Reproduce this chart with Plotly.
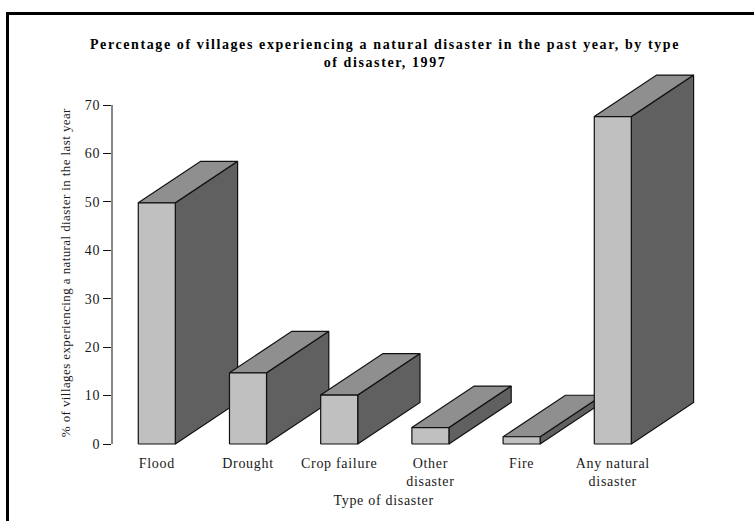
import plotly.graph_objects as go

categories = ["Flood", "Drought", "Crop failure", "Other<br>disaster", "Fire", "Any natural<br>disaster"]
values = [49.8, 14.7, 10.1, 3.4, 1.5, 67.6]
y_ticks = [0, 10, 20, 30, 40, 50, 60, 70]

TITLE = "Percentage of villages experiencing a natural disaster in the past year, by type<br>of disaster, 1997"
Y_TITLE = "% of villages experiencing a natural diaster in the last year"
X_TITLE = "Type of disaster"

FRONT, TOP, SIDE = "#c0c0c0", "#8f8f8f", "#606060"
BAR_W = 0.406
DEPTH_X, DEPTH_Y = 0.683, 8.57
FONT = "Liberation Serif"
INK = "#1a1a1a"
L, R = 112, 704
T, B = 57, 446            # plot box, extended past the axis so the raised tops are not clipped
ZERO_PX, UNIT_PX = 444, 339 / 70
Y_RANGE = [(ZERO_PX - B) / UNIT_PX, (ZERO_PX - T) / UNIT_PX]


def px(x):
    return (x - L) / (R - L)


def py(y):
    return (B - y) / (B - T)


fig = go.Figure()


def face(xs, ys, color):
    fig.add_trace(go.Scatter(x=xs + xs[:1], y=ys + ys[:1], mode="lines", fill="toself",
                             fillcolor=color, line=dict(color="#111111", width=1.2),
                             cliponaxis=False, hoverinfo="skip", showlegend=False))


for i, v in enumerate(values):
    a, b = i - BAR_W / 2, i + BAR_W / 2
    face([b, b + DEPTH_X, b + DEPTH_X, b], [0, DEPTH_Y, v + DEPTH_Y, v], SIDE)
    face([a, b, b + DEPTH_X, a + DEPTH_X], [v, v, v + DEPTH_Y, v + DEPTH_Y], TOP)
    face([a, b, b, a], [0, 0, v, v], FRONT)

fig.update_layout(
    width=754, height=521, autosize=False,
    margin=dict(l=L, r=754 - R, t=T, b=521 - B),
    paper_bgcolor="white", plot_bgcolor="white", showlegend=False,
    font=dict(family=FONT, size=14, color=INK),
    title=dict(text="<b>" + TITLE + "</b>", x=385 / 754, xanchor="center", y=1 - 49 / 521, yanchor="top",
               font=dict(family=FONT, size=14, color="#000000")),
    xaxis=dict(range=[-0.4912, 6.0], tickmode="array", tickvals=list(range(len(categories))),
               ticktext=categories, showgrid=False, zeroline=False, showline=False,
               ticks="outside", ticklen=4, tickcolor="rgba(0,0,0,0)"),
    yaxis=dict(range=Y_RANGE, tickmode="array", tickvals=y_ticks, showgrid=False, zeroline=False,
               showline=False, ticks="outside", ticklen=8, tickcolor="#111111", tickwidth=1),
    shapes=[
        dict(type="rect", xref="paper", yref="paper", x0=px(6), x1=px(760), y0=py(12), y1=py(15),
             fillcolor="black", line_width=0),
        dict(type="rect", xref="paper", yref="paper", x0=px(6), x1=px(9), y0=py(12), y1=py(530),
             fillcolor="black", line_width=0),
        dict(type="line", xref="paper", yref="y", x0=0, x1=0, y0=y_ticks[0], y1=y_ticks[-1],
             line=dict(color="#111111", width=1)),
    ],
    annotations=[
        dict(text=X_TITLE, xref="paper", yref="paper", x=px(384), y=py(500), showarrow=False,
             xanchor="center", yanchor="middle", font=dict(family=FONT, size=14, color=INK)),
        dict(text=Y_TITLE, xref="paper", yref="paper", x=px(65), y=py(273), showarrow=False, textangle=-90,
             xanchor="center", yanchor="middle", font=dict(family=FONT, size=13, color=INK)),
    ],
)

page_js = """
document.body.style.margin='0';
document.querySelectorAll('.xtick text,.ytick text').forEach(t=>t.style.letterSpacing='0.7px');
var a=document.querySelectorAll('.annotation-text');
a[0].style.letterSpacing='0.7px'; a[1].style.letterSpacing='0.4px';
document.querySelectorAll('.gtitle').forEach(t=>t.style.letterSpacing='1.6px');
"""
fig.write_html("out.html", post_script=page_js, config=dict(displayModeBar=False))
